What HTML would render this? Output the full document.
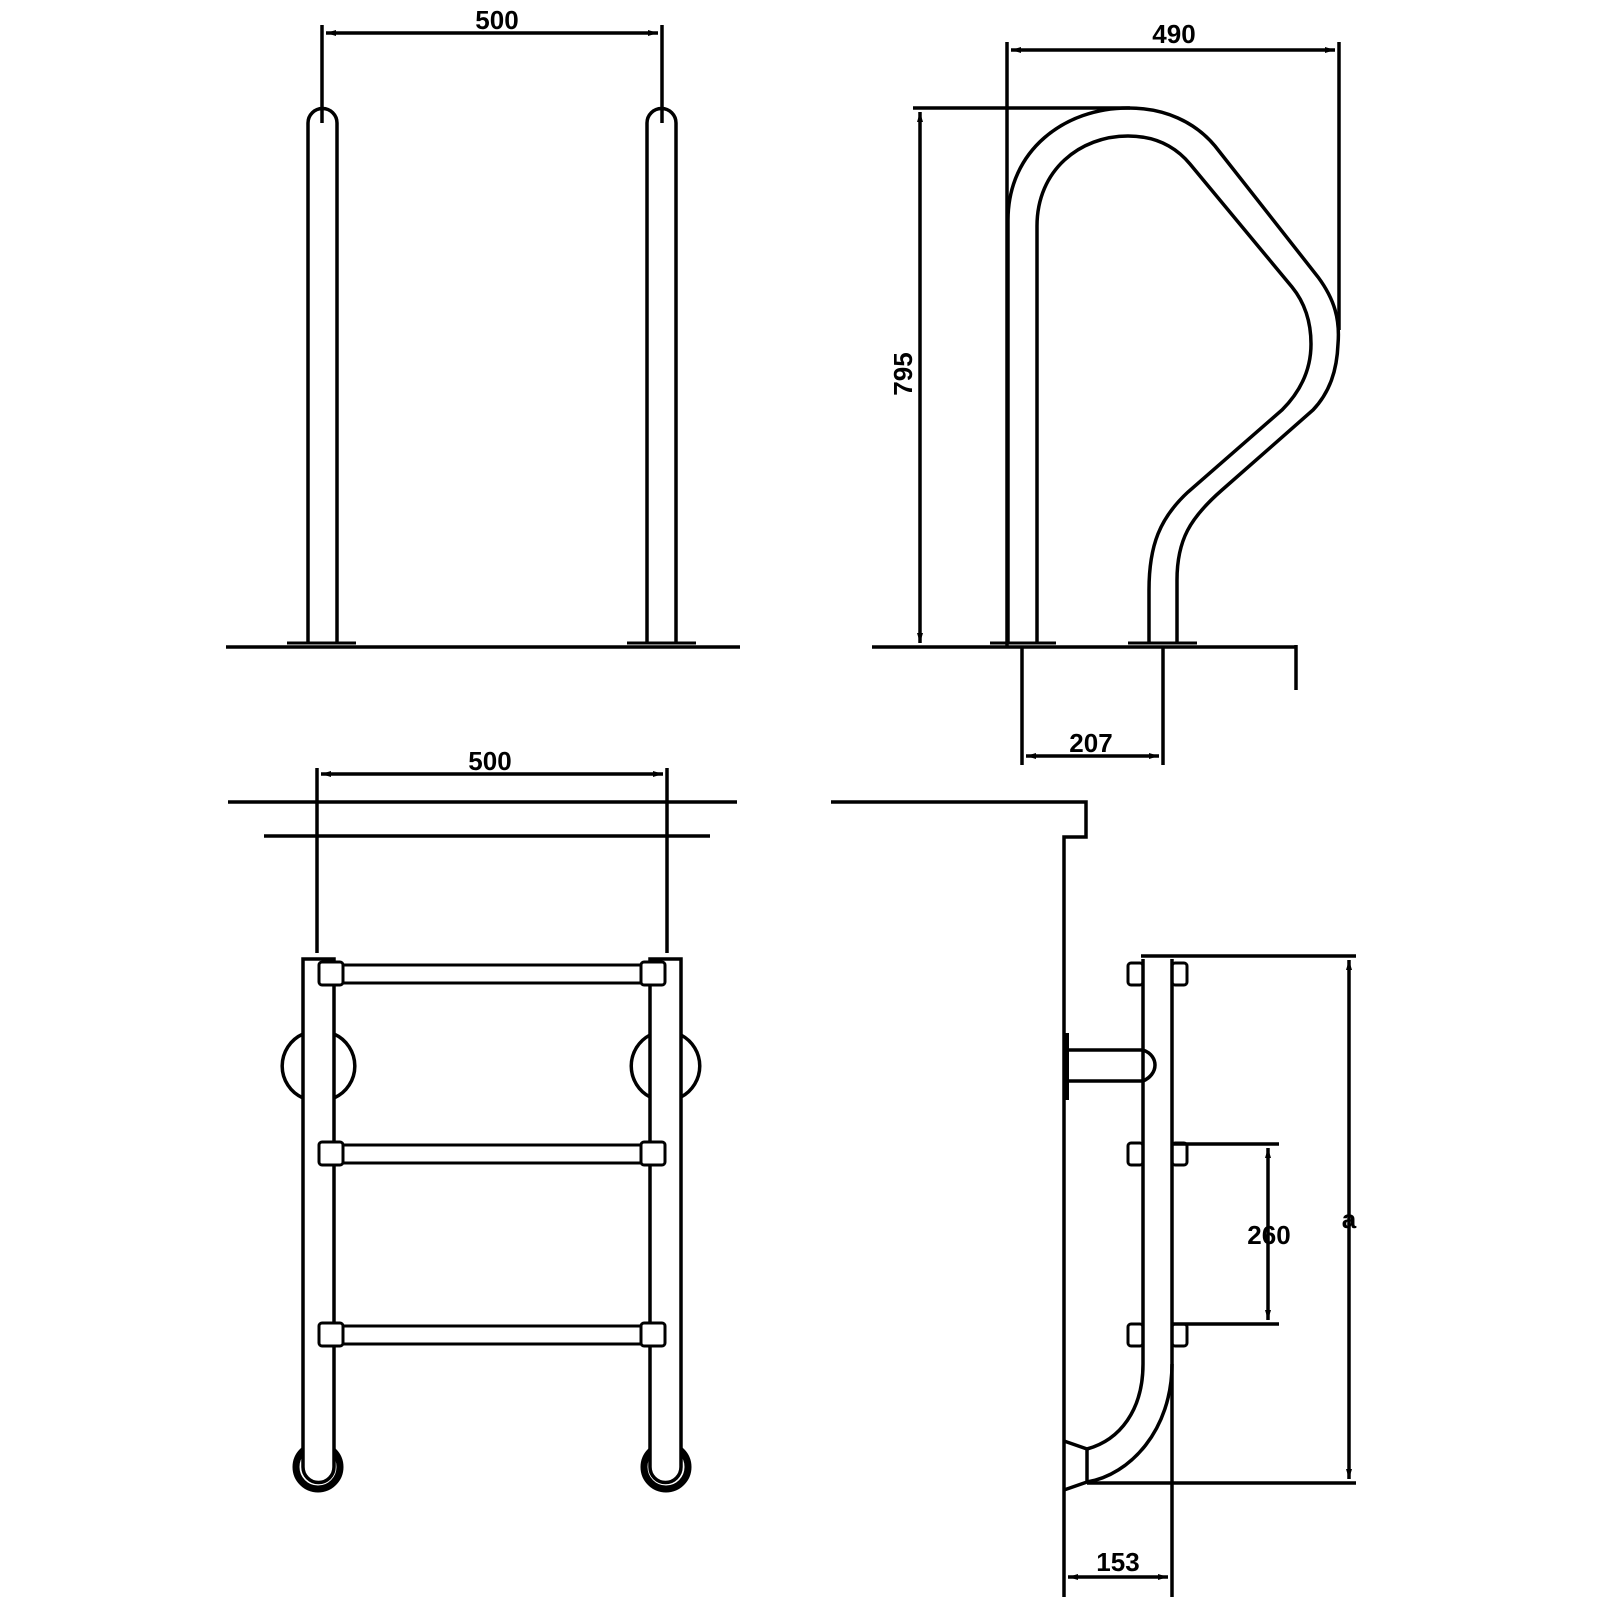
<!DOCTYPE html>
<html><head><meta charset="utf-8"><style>html,body{margin:0;padding:0;background:#fff}svg{display:block}text{font-family:"Liberation Sans",Arial,sans-serif;font-weight:bold;font-size:26px;fill:#000}</style></head><body>
<svg width="1600" height="1600" viewBox="0 0 1600 1600" xmlns="http://www.w3.org/2000/svg">
<defs>
<marker id="a" viewBox="0 0 10 6" refX="10" refY="3" markerWidth="10" markerHeight="6" markerUnits="userSpaceOnUse" orient="auto-start-reverse"><path d="M0,0 L10,3 L0,6 Z" fill="#000"/></marker>
</defs>
<g fill="none" stroke="#000" stroke-width="3.5" stroke-linecap="butt">
<!-- TOP LEFT -->
<line x1="322" y1="25" x2="322" y2="123"/>
<line x1="662" y1="25" x2="662" y2="123"/>
<line x1="326" y1="33" x2="658" y2="33" marker-start="url(#a)" marker-end="url(#a)"/>
<path d="M308,644 V123 A14.5,14.5 0 0 1 337,123 V644"/>
<path d="M647,644 V123 A14.5,14.5 0 0 1 676,123 V644"/>
<line x1="226" y1="647" x2="740" y2="647"/>
<line x1="287" y1="643" x2="356" y2="643" stroke-width="3"/>
<line x1="627" y1="643" x2="696" y2="643" stroke-width="3"/>
<!-- TOP RIGHT -->
<line x1="1007" y1="42" x2="1007" y2="647"/>
<line x1="1339" y1="42" x2="1339" y2="330"/>
<line x1="1011" y1="50" x2="1335" y2="50" marker-start="url(#a)" marker-end="url(#a)"/>
<line x1="913" y1="108" x2="1130" y2="108"/>
<line x1="920" y1="112" x2="920" y2="643" marker-start="url(#a)" marker-end="url(#a)"/>
<path d="M1008,644 V220 C1008,150 1065,108 1128,108 C1165,108 1195,122 1215,146 L1318,277 C1335,300 1340,320 1338,344 C1337,370 1330,392 1313,410 L1222,490 C1190,518 1177,540 1177,580 V644"/>
<path d="M1037,644 V226 C1037,170 1080,136 1128,136 C1155,136 1175,146 1190,164 L1292,287 C1305,303 1311,322 1311,344 C1311,368 1302,390 1282,410 L1188,492 C1160,518 1149,545 1149,590 V644"/>
<line x1="872" y1="647" x2="1296" y2="647"/>
<line x1="1296" y1="645" x2="1296" y2="690"/>
<line x1="990" y1="643" x2="1056" y2="643" stroke-width="3"/>
<line x1="1128" y1="643" x2="1197" y2="643" stroke-width="3"/>
<line x1="1022" y1="647" x2="1022" y2="765"/>
<line x1="1163" y1="647" x2="1163" y2="765"/>
<line x1="1026" y1="756" x2="1159" y2="756" marker-start="url(#a)" marker-end="url(#a)"/>
<!-- BOTTOM LEFT -->
<line x1="317" y1="768" x2="317" y2="953"/>
<line x1="667" y1="768" x2="667" y2="953"/>
<line x1="321" y1="774" x2="663" y2="774" marker-start="url(#a)" marker-end="url(#a)"/>
<line x1="228" y1="802" x2="737" y2="802"/>
<line x1="264" y1="836" x2="710" y2="836"/>
<circle cx="318" cy="1467" r="22" stroke-width="7"/>
<circle cx="666" cy="1467" r="22" stroke-width="7"/>
<path d="M303,959 V1467 A15.5,15.5 0 0 0 334,1467 V959 Z" fill="#fff"/>
<path d="M650,959 V1467 A15.5,15.5 0 0 0 681,1467 V959 Z" fill="#fff"/>
<path d="M303,1034 A35,35 0 0 0 303,1098 M334,1034 A35,35 0 0 1 334,1098"/>
<path d="M650,1035 A35,35 0 0 0 650,1097 M681,1035 A35,35 0 0 1 681,1097"/>
<g stroke-width="3" fill="#fff">
<rect x="343" y="965" width="298" height="18"/><rect x="319" y="962" width="24" height="23" rx="3"/><rect x="641" y="962" width="24" height="23" rx="3"/>
<rect x="343" y="1145" width="298" height="18"/><rect x="319" y="1142" width="24" height="23" rx="3"/><rect x="641" y="1142" width="24" height="23" rx="3"/>
<rect x="343" y="1326" width="298" height="18"/><rect x="319" y="1323" width="24" height="23" rx="3"/><rect x="641" y="1323" width="24" height="23" rx="3"/>
</g>
<!-- BOTTOM RIGHT -->
<path d="M831,802 H1086 V837 H1064 V1597"/>
<path d="M1066,1033 V1100" stroke-width="6"/>
<path d="M1067,1050 H1143 C1152,1053 1155,1060 1155,1065 C1155,1072 1150,1078 1143,1081 H1067"/>
<path d="M1143,959 V1364 C1143,1410 1120,1440 1087,1449"/>
<path d="M1172,959 V1597"/>
<path d="M1172,1364 C1172,1430 1130,1475 1087,1482"/>
<path d="M1141,956 H1356"/>
<path d="M1064,1441 L1087,1449 V1482 L1064,1490"/>
<path d="M1087,1483 H1356"/>
<path d="M1172,1144 H1279 M1172,1324 H1279"/>
<line x1="1268" y1="1148" x2="1268" y2="1320" marker-start="url(#a)" marker-end="url(#a)"/>
<line x1="1349" y1="960" x2="1349" y2="1479" marker-start="url(#a)" marker-end="url(#a)"/>
<line x1="1068" y1="1577" x2="1168" y2="1577" marker-start="url(#a)" marker-end="url(#a)"/>
<g stroke-width="3">
<rect x="1128" y="963" width="15" height="22" rx="3"/><rect x="1172" y="963" width="15" height="22" rx="3"/>
<rect x="1128" y="1143" width="15" height="22" rx="3"/><rect x="1172" y="1143" width="15" height="22" rx="3"/>
<rect x="1128" y="1324" width="15" height="22" rx="3"/><rect x="1172" y="1324" width="15" height="22" rx="3"/>
</g>
</g>
<text x="497" y="29" text-anchor="middle">500</text>
<text x="1174" y="43" text-anchor="middle">490</text>
<text x="1091" y="752" text-anchor="middle">207</text>
<text x="490" y="770" text-anchor="middle">500</text>
<text transform="translate(912,374) rotate(-90)" text-anchor="middle">795</text>
<text x="1269" y="1244" text-anchor="middle">260</text>
<text x="1349" y="1228" text-anchor="middle">a</text>
<text x="1118" y="1571" text-anchor="middle">153</text>
</svg>
</body></html>
